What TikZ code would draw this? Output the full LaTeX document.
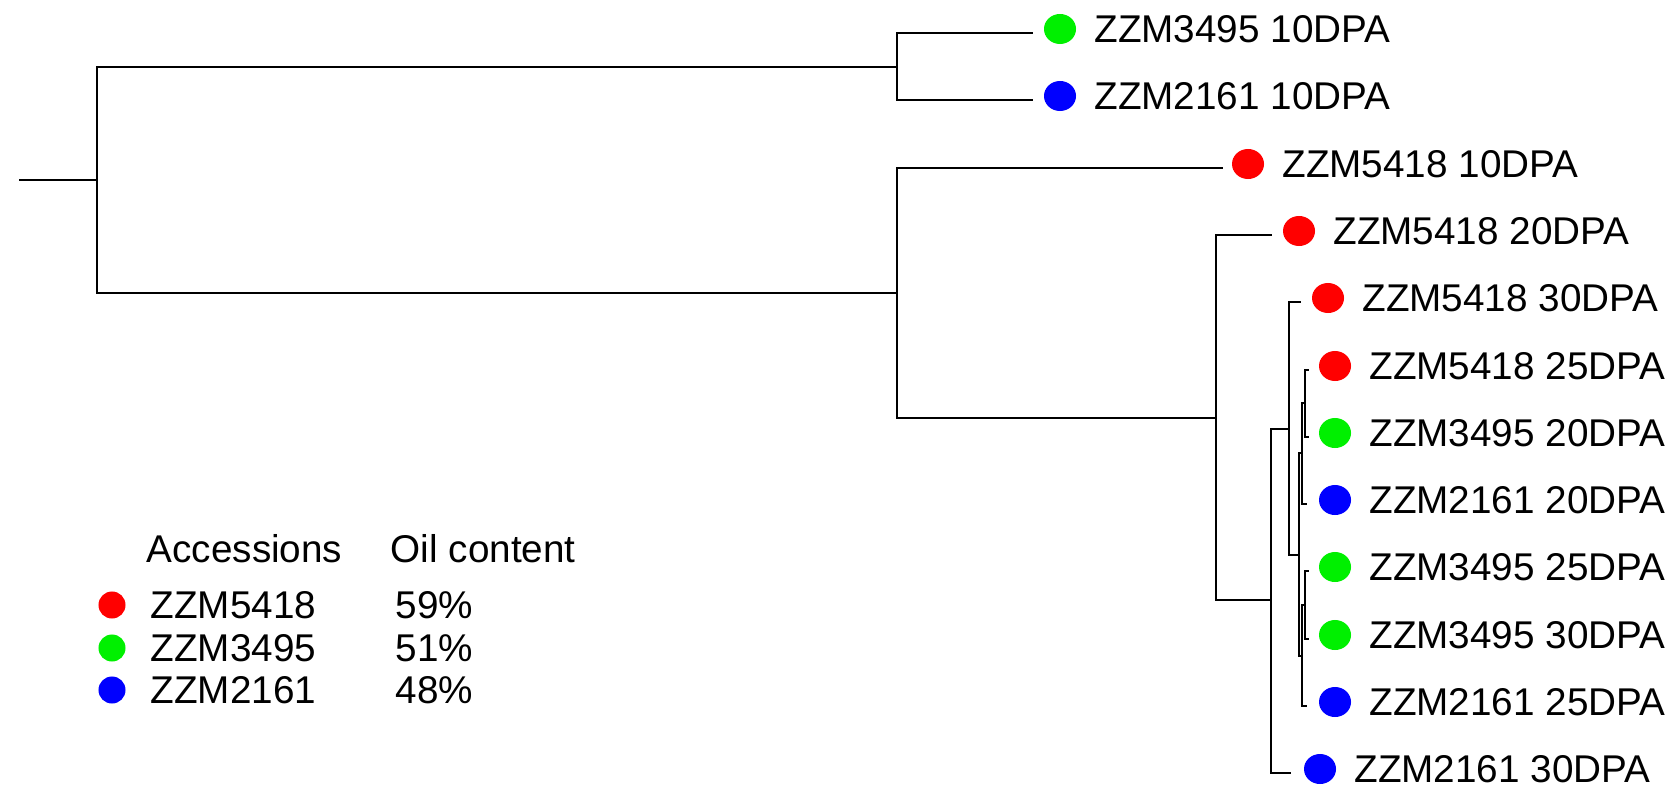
\documentclass[tikz,border=0pt]{standalone}
\usepackage{fontspec}
\setmainfont{Liberation Sans}
\usetikzlibrary{positioning, calc, shapes.geometric}
\definecolor{rot}{RGB}{255,0,0}
\definecolor{gruen}{RGB}{0,240,0}
\definecolor{blau}{RGB}{0,0,255}
\tikzset{
    ast/.style={line width=0.75pt, line cap=rect},
    punkt/.style={ellipse, fill=#1, inner sep=0pt, minimum width=0.32cm, minimum height=0.30cm},
    kpunkt/.style={circle, fill=#1, inner sep=0pt, minimum size=0.27cm},
    beschr/.style={font=\fontsize{11}{13}\selectfont, inner sep=0pt, anchor=west},
}

\begin{document}
\begin{tikzpicture}[x=0.01cm, y=-0.01cm]
\useasboundingbox (0,0) rectangle (1673,788);

% Verzweigungen
\coordinate (r0) at (20,180);
\coordinate (R) at (97,180);
\coordinate (A) at (897,67);
\coordinate (B) at (897,293);
\coordinate (C) at (1216,418);
\coordinate (D) at (1271,600);
\coordinate (E) at (1289,429);
\coordinate (F) at (1299,555);
\coordinate (G) at (1302,453);
\coordinate (G1) at (1305,403);
\coordinate (H) at (1302,656);
\coordinate (H1) at (1305,605);

% Blattenden
\coordinate (l1) at (1032,33);
\coordinate (l2) at (1032,100);
\coordinate (l3) at (1222,168);
\coordinate (l4) at (1271,235);
\coordinate (l5) at (1300,302);
\coordinate (l6) at (1308,370);
\coordinate (l7) at (1308,437);
\coordinate (l8) at (1306,504);
\coordinate (l9) at (1308,571);
\coordinate (l10) at (1308,639);
\coordinate (l11) at (1306,706);
\coordinate (l12) at (1290,773);

% Aeste
\draw[ast] (r0) -- (R);
\draw[ast] (R) |- (A);
\draw[ast] (R) |- (B);
\draw[ast] (A) |- (l1);
\draw[ast] (A) |- (l2);
\draw[ast] (B) |- (l3);
\draw[ast] (B) |- (C);
\draw[ast] (C) |- (l4);
\draw[ast] (C) |- (D);
\draw[ast] (D) |- (E);
\draw[ast] (D) |- (l12);
\draw[ast] (E) |- (l5);
\draw[ast] (E) |- (F);
\draw[ast] (F) |- (G);
\draw[ast] (F) |- (H);
\draw[ast] (G) |- (G1);
\draw[ast] (G) |- (l8);
\draw[ast] (G1) |- (l6);
\draw[ast] (G1) |- (l7);
\draw[ast] (H) |- (H1);
\draw[ast] (H) |- (l11);
\draw[ast] (H1) |- (l9);
\draw[ast] (H1) |- (l10);

% Punkte und Namen
\node[punkt=gruen] (p1) at ($(l1)+(28,-4)$) {};
\node[beschr, right=0.17cm of p1] (t1) {ZZM3495 10DPA};
\node[punkt=blau] (p2) at ($(l2)+(28,-4)$) {};
\node[beschr, right=0.17cm of p2] (t2) {ZZM2161 10DPA};
\node[punkt=rot] (p3) at ($(l3)+(26,-4)$) {};
\node[beschr, right=0.17cm of p3] (t3) {ZZM5418 10DPA};
\node[punkt=rot] (p4) at ($(l4)+(28,-4)$) {};
\node[beschr, right=0.17cm of p4] (t4) {ZZM5418 20DPA};
\node[punkt=rot] (p5) at ($(l5)+(28,-4)$) {};
\node[beschr, right=0.17cm of p5] (t5) {ZZM5418 30DPA};
\node[punkt=rot] (p6) at ($(l6)+(27,-4)$) {};
\node[beschr, right=0.17cm of p6] (t6) {ZZM5418 25DPA};
\node[punkt=gruen] (p7) at ($(l7)+(27,-4)$) {};
\node[beschr, right=0.17cm of p7] (t7) {ZZM3495 20DPA};
\node[punkt=blau] (p8) at ($(l8)+(29,-4)$) {};
\node[beschr, right=0.17cm of p8] (t8) {ZZM2161 20DPA};
\node[punkt=gruen] (p9) at ($(l9)+(27,-4)$) {};
\node[beschr, right=0.17cm of p9] (t9) {ZZM3495 25DPA};
\node[punkt=gruen] (p10) at ($(l10)+(27,-4)$) {};
\node[beschr, right=0.17cm of p10] (t10) {ZZM3495 30DPA};
\node[punkt=blau] (p11) at ($(l11)+(29,-4)$) {};
\node[beschr, right=0.17cm of p11] (t11) {ZZM2161 25DPA};
\node[punkt=blau] (p12) at ($(l12)+(30,-4)$) {};
\node[beschr, right=0.17cm of p12] (t12) {ZZM2161 30DPA};

% Legende
\node[beschr] (kopf1) at (146,549) {Accessions};
\node[beschr] (kopf2) at (390,549) {Oil content};
\node[kpunkt=rot] (k1) at (112,605) {};
\node[kpunkt=gruen] (k2) at (112,648) {};
\node[kpunkt=blau] (k3) at (112,690) {};
\node[beschr] (n1) at (150,605) {ZZM5418};
\node[beschr] (n2) at (150,648) {ZZM3495};
\node[beschr] (n3) at (150,690) {ZZM2161};
\node[beschr] (w1) at (395,605) {59\%};
\node[beschr] (w2) at (395,648) {51\%};
\node[beschr] (w3) at (395,690) {48\%};
\end{tikzpicture}
\end{document}
